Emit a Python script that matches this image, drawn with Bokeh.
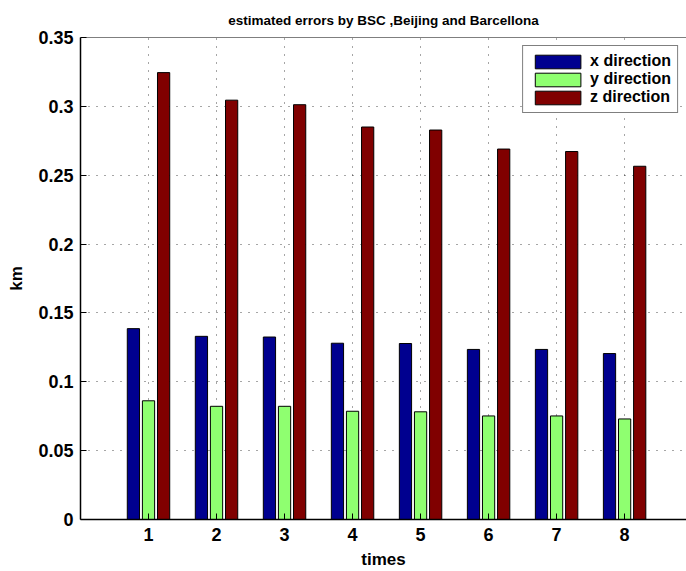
from bokeh.plotting import figure
from bokeh.models import Range1d, FixedTicker, Legend, LegendItem, ColumnDataSource, Span
from bokeh.embed import file_html
from bokeh.resources import INLINE

times = [1, 2, 3, 4, 5, 6, 7, 8]
x_dir = [0.1386, 0.1330, 0.1325, 0.1280, 0.1278, 0.1235, 0.1235, 0.1205]
y_dir = [0.0862, 0.0822, 0.0822, 0.0786, 0.0782, 0.0752, 0.0752, 0.0730]
z_dir = [0.3245, 0.3045, 0.3012, 0.2850, 0.2828, 0.2690, 0.2672, 0.2565]
series_names = ["x direction", "y direction", "z direction"]
colors = ["#00008F", "#8FFF70", "#800000"]
y_ticks = [0, 0.05, 0.1, 0.15, 0.2, 0.25, 0.3, 0.35]
title_text = "estimated errors by BSC ,Beijing and Barcellona"

FONT = "Liberation Sans"

p = figure(width=686, height=571, output_backend="svg", toolbar_location=None,
           x_range=Range1d(0, 8.91), y_range=Range1d(0, 0.35),
           min_border_left=80, min_border_top=37, min_border_bottom=50, min_border_right=0,
           x_axis_label="times", y_axis_label="km", title=title_text)
p.title.align = "center"
p.title.text_font = FONT
p.title.text_font_style = "bold"
p.title.text_font_size = "13.5px"
p.title.text_color = "black"
p.title.standoff = 19
p.outline_line_color = None
p.background_fill_color = "white"
p.border_fill_color = "white"

offsets = [-0.222, 0.0, 0.222]
w = 0.18
renderers = []
for vals, off, col in zip([x_dir, y_dir, z_dir], offsets, colors):
    src = ColumnDataSource(dict(x=[t + off for t in times], top=vals))
    r = p.vbar(x="x", top="top", width=w, bottom=0, source=src,
               fill_color=col, line_color="black", line_width=1)
    renderers.append(r)

for ax in (p.xaxis[0], p.yaxis[0]):
    ax.major_tick_in = 6
    ax.major_tick_out = 0
    ax.minor_tick_line_color = None
    ax.axis_line_color = "black"
    ax.axis_line_width = 1.5
    ax.major_label_text_font = FONT
    ax.major_label_text_font_style = "bold"
    ax.major_label_text_font_size = "18px"
    ax.major_label_text_color = "black"
    ax.axis_label_text_font = FONT
    ax.axis_label_text_font_style = "bold"
    ax.axis_label_text_font_size = "17px"
    ax.axis_label_text_color = "black"

p.xaxis[0].ticker = FixedTicker(ticks=times)
p.yaxis[0].ticker = FixedTicker(ticks=y_ticks)
p.yaxis[0].major_label_overrides = {0: "0", 0.05: "0.05", 0.1: "0.1", 0.15: "0.15",
                                    0.2: "0.2", 0.25: "0.25", 0.3: "0.3", 0.35: "0.35"}
p.xaxis[0].major_label_standoff = 8
p.xaxis[0].axis_label_standoff = 6
p.yaxis[0].major_label_standoff = 7
p.yaxis[0].axis_label_standoff = 9

top_line = Span(location=0.35, dimension="width", line_color="black", line_width=1.2)
p.add_layout(top_line)

p.xgrid.ticker = FixedTicker(ticks=times)
p.ygrid.ticker = FixedTicker(ticks=y_ticks)
for g in (p.xgrid[0], p.ygrid[0]):
    g.grid_line_color = "black"
    g.grid_line_alpha = 0.7
    g.grid_line_dash = "1 7"
    g.grid_line_width = 1

legend = Legend(items=[LegendItem(label=n, renderers=[r]) for n, r in zip(series_names, renderers)],
                location="top_right")
legend.label_text_font = FONT
legend.label_text_font_style = "bold"
legend.label_text_font_size = "16px"
legend.label_text_color = "black"
legend.border_line_color = "black"
legend.border_line_width = 1.5
legend.glyph_width = 57
legend.glyph_height = 17
legend.label_height = 17
legend.spacing = 0
legend.padding = 6
legend.margin = 8
legend.label_standoff = 4
legend.background_fill_alpha = 1
p.add_layout(legend)

open("out.html", "w").write(file_html(p, INLINE))
